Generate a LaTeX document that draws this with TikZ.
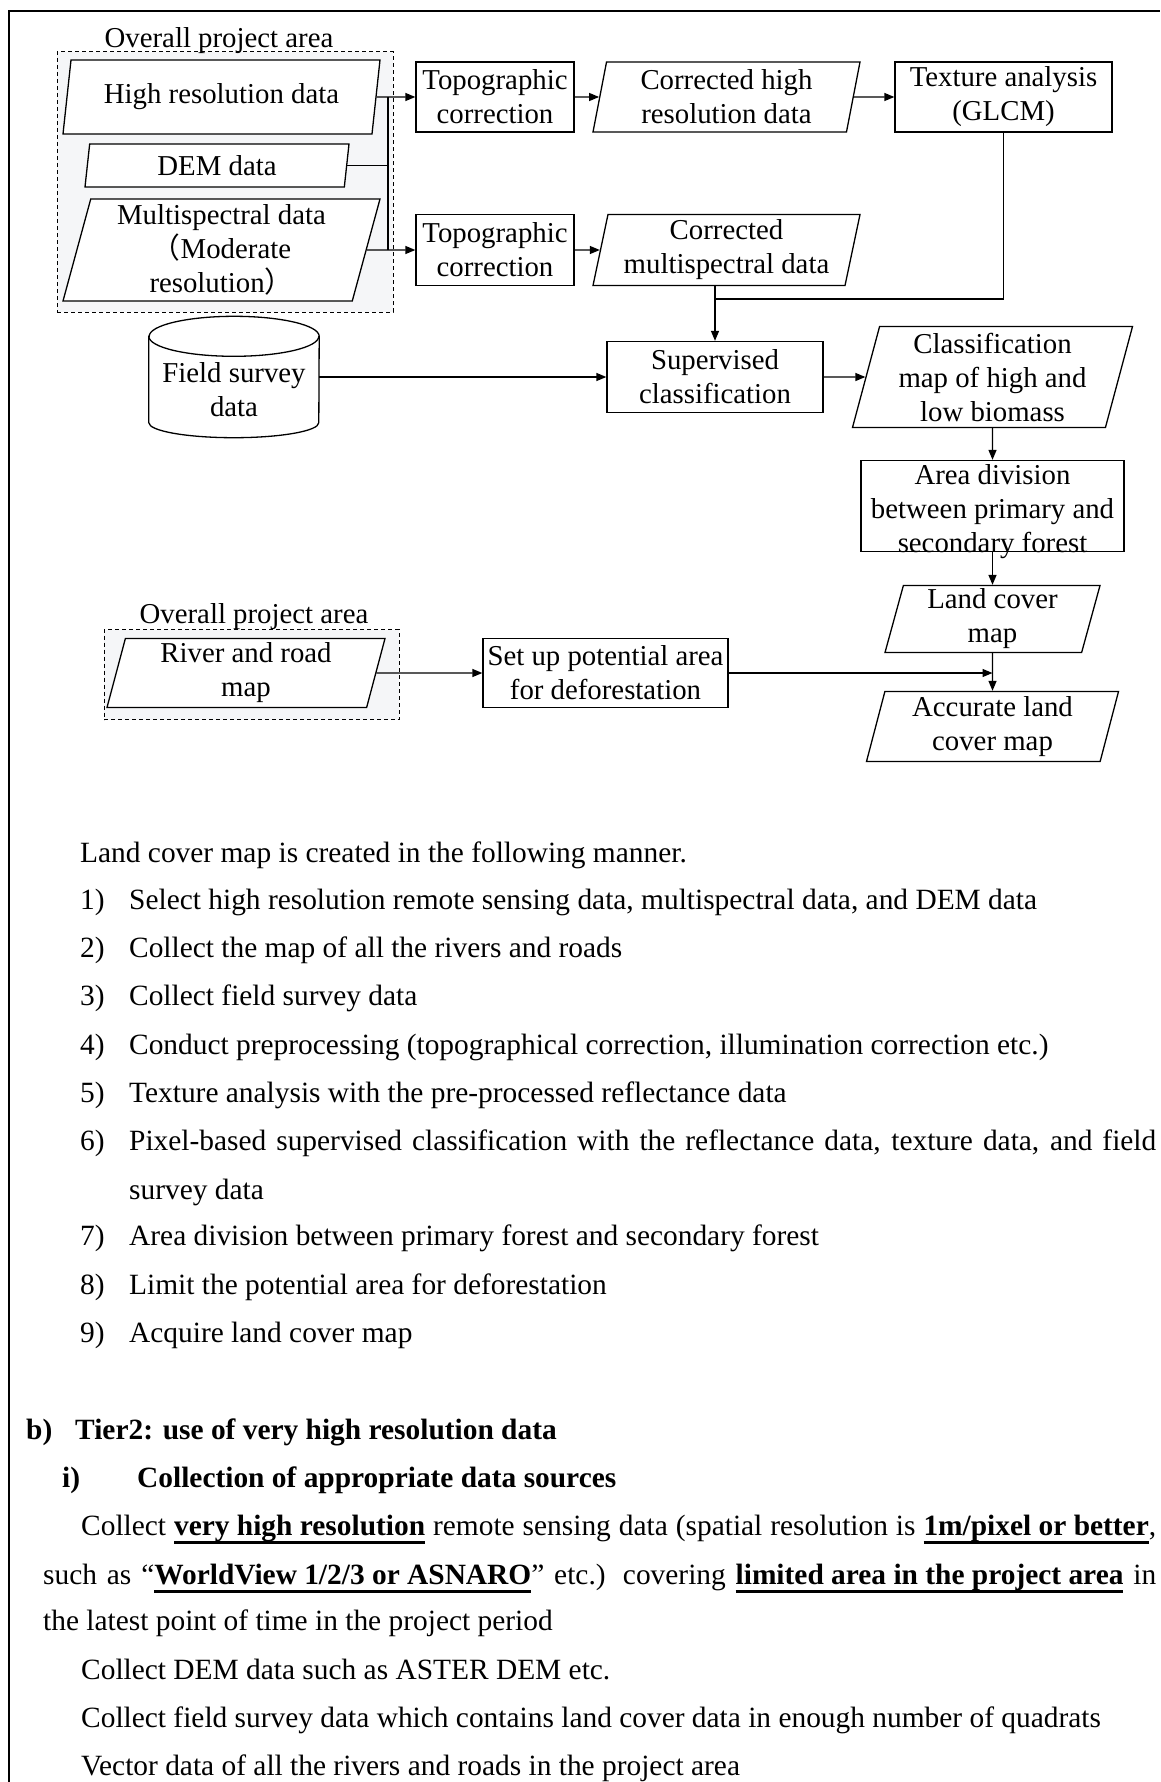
\documentclass[tikz,border=0pt]{standalone}
\usepackage{fontspec}
\setmainfont{Liberation Serif}
\newfontfamily\cjkfont{Noto Sans CJK JP}
\usetikzlibrary{shapes,arrows.meta,positioning,backgrounds,calc}
\definecolor{areafill}{RGB}{245,246,248}
\newsavebox{\ulinebox}
\newcommand{\heavyul}[1]{\sbox{\ulinebox}{#1}\rlap{\rule[-9pt]{\wd\ulinebox}{2.6pt}}\usebox{\ulinebox}}
\tikzset{
    % Define standard node styles
    procbox/.style={
        rectangle, draw, line width=1.3pt, fill=white,
        align=center, inner sep=0pt
    },
    databox/.style={
        trapezium, trapezium left angle=73, trapezium right angle=107,
        trapezium stretches body, draw, line width=1.3pt, fill=white,
        align=center, inner xsep=0pt, inner ysep=0pt
    },
    storebox/.style={
        rectangle, align=center, inner sep=0pt,
        minimum width=170pt, minimum height=121pt
    },
    areabox/.style={
        rectangle, draw, dash pattern=on 4pt off 3pt,
        line width=1pt, fill=areafill
    },
    arealabel/.style={inner sep=0pt, anchor=south},
    link/.style={line width=1.3pt},
    arrow/.style={link, -{Triangle[length=10pt,width=8pt]}},
    bodyline/.style={inner sep=0pt, anchor=base west, font=\fontsize{29.4pt}{34pt}\selectfont}
}

\begin{document}
\begin{tikzpicture}[x=1pt, y=-1pt, on grid, font=\fontsize{28.8pt}{34pt}\selectfont]
\useasboundingbox (0,0) rectangle (1160,1782);

% Page frame
\draw[line width=2.6pt] (9,1782) -- (9,11) -- (1160,11);

% Input data
\node[databox, minimum width=317pt, minimum height=74pt] (hires) at (221.5,97) {High resolution data};
\node[databox, trapezium left angle=77, trapezium right angle=103, minimum width=264pt, minimum height=43pt, below left=68.5pt and 4.5pt of hires] (dem) {DEM data};
\node[databox, minimum width=317pt, minimum height=102pt, below=153pt of hires] (multi) {Multispectral data\\{\cjkfont （}Moderate\\resolution{\cjkfont ）}};

% Topographic correction
\node[procbox, minimum width=158pt, minimum height=70pt, right=273.5pt of hires] (topo1) {Topographic\\correction};
\node[procbox, minimum width=158pt, minimum height=71pt, right=273.5pt of multi] (topo2) {Topographic\\correction};
\node[databox, trapezium left angle=76, trapezium right angle=104, minimum width=267pt, minimum height=70pt, right=231.5pt of topo1] (corhigh) {Corrected high\\resolution data};
\node[databox, trapezium left angle=76, trapezium right angle=104, minimum width=267pt, minimum height=71pt, right=231.5pt of topo2] (cormulti) {Corrected\\multispectral data};
\node[procbox, minimum width=217pt, minimum height=70pt, right=277pt of corhigh] (texture) {Texture analysis\\(GLCM)};

% Classification
\node[procbox, minimum width=216pt, minimum height=71pt, below left=127pt and 11.5pt of cormulti] (superv) {Supervised\\classification};
\node[storebox, left=481pt of superv] (field) {\rule{0pt}{46pt}Field survey\\data};
\node[databox, minimum width=280pt, minimum height=101pt, right=277.5pt of superv] (classmap) {Classification\\map of high and\\low biomass};
\node[procbox, minimum width=263pt, minimum height=91pt, inner ysep=-8pt, below=129pt of classmap] (areadiv) {\rule{0pt}{32pt}Area division\\between primary and\\secondary forest};
\node[databox, minimum width=215pt, minimum height=67pt, below=113pt of areadiv] (landcover) {Land cover\\map};
\node[databox, minimum width=252pt, minimum height=70pt, below=107.5pt of landcover] (accurate) {Accurate land\\cover map};

% Deforestation limit
\node[procbox, minimum width=245pt, minimum height=69pt, below left=54pt and 387pt of landcover] (setup) {Set up potential area\\for deforestation};
\node[databox, minimum width=278pt, minimum height=69pt, left=359.5pt of setup] (river) {River and road\\map};

% Project areas and field survey store
\begin{scope}[on background layer]
\node[areabox, minimum width=336pt, minimum height=260pt, below right=85pt and 3.5pt of hires] (area1) {};
\node[areabox, minimum width=295pt, minimum height=90pt, below right=1.5pt and 5.5pt of river] (area2) {};
\draw[link, fill=white] ([yshift=-20pt]field.north west) -- ([yshift=15pt]field.south west)
    arc[start angle=180, end angle=360, x radius=85pt, y radius=15pt]
    -- ([yshift=-20pt]field.north east)
    arc[start angle=0, end angle=180, x radius=85pt, y radius=20pt] -- cycle;
\draw[link] ([yshift=-20pt]field.north west) arc[start angle=180, end angle=360, x radius=85pt, y radius=20pt];
\end{scope}
\node[arealabel, xshift=-6pt, yshift=-2pt] (area1lbl) at (area1.north) {Overall project area};
\node[arealabel, xshift=2.5pt, yshift=-1pt] (area2lbl) at (area2.north) {Overall project area};

% Connectors
\coordinate[right=166.5pt of hires] (junction);
\coordinate[above=42pt of superv.north] (merge);
\draw[link] (dem) -- (dem -| junction);
\draw[link] (junction) -- (junction |- multi);
\draw[arrow] (hires) -- (topo1);
\draw[arrow] (multi) -- (topo2);
\draw[arrow] (topo1) -- (corhigh);
\draw[arrow] (topo2) -- (cormulti);
\draw[arrow] (corhigh) -- (texture);
\draw[link] (texture) |- (merge);
\draw[arrow] (superv |- cormulti.south) -- (superv);
\draw[arrow] (field) -- (superv);
\draw[arrow] (superv) -- (classmap);
\draw[arrow] (classmap) -- (areadiv);
\draw[arrow] (areadiv) -- (landcover);
\draw[arrow] (landcover) -- (accurate);
\draw[arrow] (river) -- (setup);
\draw[arrow] (setup) -- (setup -| landcover);

% Explanation text
\node[bodyline] (intro) at (80,862) {Land cover map is created in the following manner.};
\node[bodyline] (step1) at (80,909) {\makebox[49pt][l]{1)}Select high resolution remote sensing data, multispectral data, and DEM data};
\node[bodyline] (step2) at (80,957) {\makebox[49pt][l]{2)}Collect the map of all the rivers and roads};
\node[bodyline] (step3) at (80,1005) {\makebox[49pt][l]{3)}Collect field survey data};
\node[bodyline] (step4) at (80,1054) {\makebox[49pt][l]{4)}Conduct preprocessing (topographical correction, illumination correction etc.)};
\node[bodyline] (step5) at (80,1102) {\makebox[49pt][l]{5)}Texture analysis with the pre-processed reflectance data};
\node[bodyline] (step6) at (80,1150) {\makebox[1076pt][s]{\makebox[49pt][l]{6)}Pixel-based supervised classification with the reflectance data, texture data, and field}};
\node[bodyline] (step6b) at (129,1199) {survey data};
\node[bodyline] (step7) at (80,1245) {\makebox[49pt][l]{7)}Area division between primary forest and secondary forest};
\node[bodyline] (step8) at (80,1294) {\makebox[49pt][l]{8)}Limit the potential area for deforestation};
\node[bodyline] (step9) at (80,1342) {\makebox[49pt][l]{9)}Acquire land cover map};

\node[bodyline] (tier2) at (26,1439) {\bfseries\makebox[49pt][l]{b)}Tier2: use of very high resolution data};
\node[bodyline] (collect) at (62,1487) {\bfseries\makebox[75pt][l]{i)}Collection of appropriate data sources};
\node[bodyline] (src1) at (81,1535) {\makebox[1075pt][s]{Collect \heavyul{\bfseries very high resolution} remote sensing data (spatial resolution is \heavyul{\bfseries 1m/pixel or better},}};
\node[bodyline] (src1b) at (43,1584) {\makebox[1113pt][s]{such as “\heavyul{\bfseries WorldView 1/2/3 or ASNARO}” etc.) covering \heavyul{\bfseries limited area in the project area} in}};
\node[bodyline] (src1c) at (43,1630) {the latest point of time in the project period};
\node[bodyline] (src2) at (81,1679) {Collect DEM data such as ASTER DEM etc.};
\node[bodyline] (src3) at (81,1727) {Collect field survey data which contains land cover data in enough number of quadrats};
\node[bodyline] (src4) at (81,1775) {Vector data of all the rivers and roads in the project area};

\end{tikzpicture}
\end{document}
